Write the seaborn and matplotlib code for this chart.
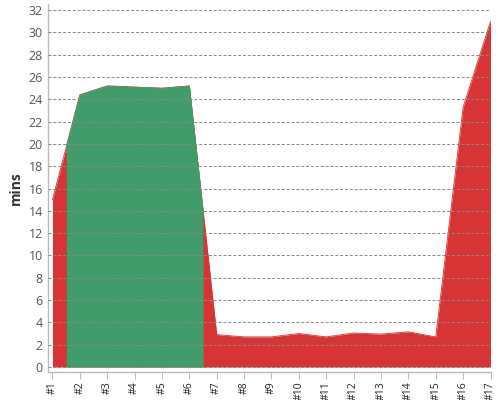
import numpy as np
import pandas as pd
import matplotlib
matplotlib.use("Agg")
import matplotlib.pyplot as plt
import seaborn as sns

categories = ["#1", "#2", "#3", "#4", "#5", "#6", "#7", "#8", "#9", "#10",
              "#11", "#12", "#13", "#14", "#15", "#16", "#17"]
mins = [15.0, 24.4, 25.2, 25.1, 25.0, 25.2, 2.9, 2.7, 2.7, 3.0,
        2.7, 3.05, 2.95, 3.15, 2.7, 23.3, 31.0]
green_zone = [0.5, 5.5]  # zone (in category index) drawn in green

red = "#d63435"
green = "#429b6b"

sns.set_theme(style="white")
plt.rcParams['font.family'] = ['Open Sans', 'DejaVu Sans']

df = pd.DataFrame({"cat": categories, "mins": mins, "idx": np.arange(len(categories))})

fig = plt.figure(figsize=(5, 4), dpi=100)
ax = fig.add_axes([0.0967, 0.07, 0.8843, 0.92])

x = df["idx"].to_numpy(dtype=float)
y = df["mins"].to_numpy(dtype=float)

ax.fill_between(x, 0, y, color=red, linewidth=0, zorder=1)
sns.lineplot(data=df, x="idx", y="mins", color=red, linewidth=0.6, ax=ax, zorder=1)

# green zone: same series clipped to zone
gx = np.concatenate([[green_zone[0]], x[(x > green_zone[0]) & (x < green_zone[1])], [green_zone[1]]])
gy = np.interp(gx, x, y)
ax.fill_between(gx, 0, gy, color=green, linewidth=0, zorder=1.1)
ax.plot(gx, gy, color=green, linewidth=0.6, zorder=1.1)

ax.set_xlim(-0.15, len(categories) - 1)
ax.set_ylim(-0.45, 32.55)
ax.set_yticks(np.arange(0, 33, 2))
ax.set_xticks(x)
ax.set_xticklabels(categories, rotation=90, fontsize=7.5, color="#222")
ax.tick_params(axis="y", labelsize=9, colors="#555", length=0, pad=4)
ax.tick_params(axis="x", length=5, width=0.8, color="#bbb", pad=2, bottom=True)
for lbl in ax.get_yticklabels():
    lbl.set_color("#555")

ax.set_axisbelow(False)
ax.yaxis.grid(True, linestyle=(0, (3, 2)), color="#888", linewidth=0.7)
ax.xaxis.grid(False)

for s in ["top", "right"]:
    ax.spines[s].set_visible(False)
ax.spines["left"].set_color("#bbb")
ax.spines["bottom"].set_color("#bbb")
ax.spines["left"].set_linewidth(1)
ax.spines["bottom"].set_linewidth(1)

ax.set_xlabel("")
ax.set_ylabel("mins", fontsize=10, fontweight="bold", color="#333", labelpad=4)

fig.savefig("out.png", dpi=100)
